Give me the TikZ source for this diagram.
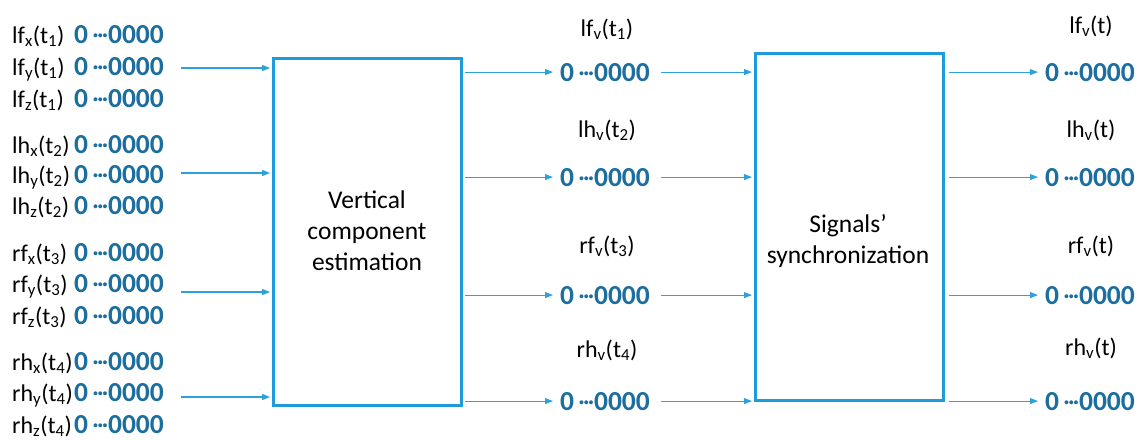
\documentclass[tikz,border=0pt]{standalone}
\usepackage{fontspec}
\setmainfont{Carlito}
\usetikzlibrary{arrows.meta}
\definecolor{boxblue}{RGB}{30,155,218}
\definecolor{arrblue}{RGB}{45,160,222}
\definecolor{digblue}{RGB}{28,110,158}
\newcommand{\bits}{0\kern4pt{\mdseries·\kern-2.2pt·\kern-2.2pt·}\kern-0.5pt0000}
\newcommand{\sbs}[1]{\textsubscript{#1}}
\begin{document}
\begin{tikzpicture}[x=1pt,y=-1pt,
  lab/.style={inner sep=0pt, font=\fontsize{24}{28}\selectfont, text=black},
  dig/.style={inner sep=0pt, font=\fontsize{27.5}{30}\selectfont\bfseries, text=digblue},
  blk/.style={draw=boxblue, line width=3pt, rectangle, inner sep=0pt, minimum width=188pt},
  btxt/.style={align=center, inner sep=0pt, font=\fontsize{25.5}{31}\selectfont},
  arr/.style={draw=arrblue, line width=1.1pt, -{Triangle[length=8pt,width=6pt]}}]
\useasboundingbox (0,0) rectangle (1148,439);
% boxes
\node[blk, minimum height=347pt] (box1) at (367,231.5) {};
\node[blk, minimum height=347pt] (box2) at (849,226.5) {};
\node[btxt, anchor=base] (bt1) at (367,270) {Vertical\\component\\estimation};
\node[btxt, anchor=base] (bt2) at (848,263) {Signals’\\synchronization};
% left labels
\node[lab, anchor=base west] (L1) at (12,43) {lf\sbs{x}(t\sbs{1})};
\node[lab, anchor=base west] (L2) at (12,75) {lf\sbs{y}(t\sbs{1})};
\node[lab, anchor=base west] (L3) at (12,107) {lf\sbs{z}(t\sbs{1})};
\node[lab, anchor=base west] (L4) at (12,153) {lh\sbs{x}(t\sbs{2})};
\node[lab, anchor=base west] (L5) at (12,183) {lh\sbs{y}(t\sbs{2})};
\node[lab, anchor=base west] (L6) at (12,214) {lh\sbs{z}(t\sbs{2})};
\node[lab, anchor=base west] (L7) at (12,261) {rf\sbs{x}(t\sbs{3})};
\node[lab, anchor=base west] (L8) at (12,292) {rf\sbs{y}(t\sbs{3})};
\node[lab, anchor=base west] (L9) at (12,324) {rf\sbs{z}(t\sbs{3})};
\node[lab, anchor=base west] (L10) at (12,370) {rh\sbs{x}(t\sbs{4})};
\node[lab, anchor=base west] (L11) at (12,401) {rh\sbs{y}(t\sbs{4})};
\node[lab, anchor=base west] (L12) at (12,433) {rh\sbs{z}(t\sbs{4})};
% left digits
\foreach \y [count=\i] in {43,75,107,153,183,214,261,292,324,370,401,433}
  \node[dig, anchor=base west] (D\i) at (74,\y) {\bits};
% left arrows
\coordinate (a1) at (181,68);
\coordinate (a2) at (181,173);
\coordinate (a3) at (181,292);
\coordinate (a4) at (181,397);
\foreach \i in {1,...,4}
  \draw[arr, shorten >=1.5pt] (a\i) -- (box1.west |- a\i);
% middle
\node[lab, anchor=base] (M1) at (607,36) {lf\sbs{v}(t\sbs{1})};
\node[lab, anchor=base] (M2) at (607,137) {lh\sbs{v}(t\sbs{2})};
\node[lab, anchor=base] (M3) at (607,253) {rf\sbs{v}(t\sbs{3})};
\node[lab, anchor=base] (M4) at (607,357) {rh\sbs{v}(t\sbs{4})};
\node[dig, anchor=base west] (md1) at (560,81) {\bits};
\node[dig, anchor=base west] (md2) at (560,186) {\bits};
\node[dig, anchor=base west] (md3) at (560,304) {\bits};
\node[dig, anchor=base west] (md4) at (560,410) {\bits};
% right
\node[lab, anchor=base] (R1) at (1091,33) {lf\sbs{v}(t)};
\node[lab, anchor=base] (R2) at (1091,137) {lh\sbs{v}(t)};
\node[lab, anchor=base] (R3) at (1091,253) {rf\sbs{v}(t)};
\node[lab, anchor=base] (R4) at (1091,355) {rh\sbs{v}(t)};
\node[dig, anchor=base west] (rd1) at (1045,81) {\bits};
\node[dig, anchor=base west] (rd2) at (1045,186) {\bits};
\node[dig, anchor=base west] (rd3) at (1045,304) {\bits};
\node[dig, anchor=base west] (rd4) at (1045,410) {\bits};
\foreach \i in {1,...,4} {
  \draw[arr, shorten <=2.5pt, shorten >=7pt] (box1.east |- md\i.west) -- (md\i.west);
  \draw[arr, shorten <=11pt, shorten >=1.5pt] (md\i.east) -- (box2.west |- md\i.east);
  \draw[arr, shorten <=4pt, shorten >=7pt] (box2.east |- rd\i.west) -- (rd\i.west);
}
\end{tikzpicture}
\end{document}
